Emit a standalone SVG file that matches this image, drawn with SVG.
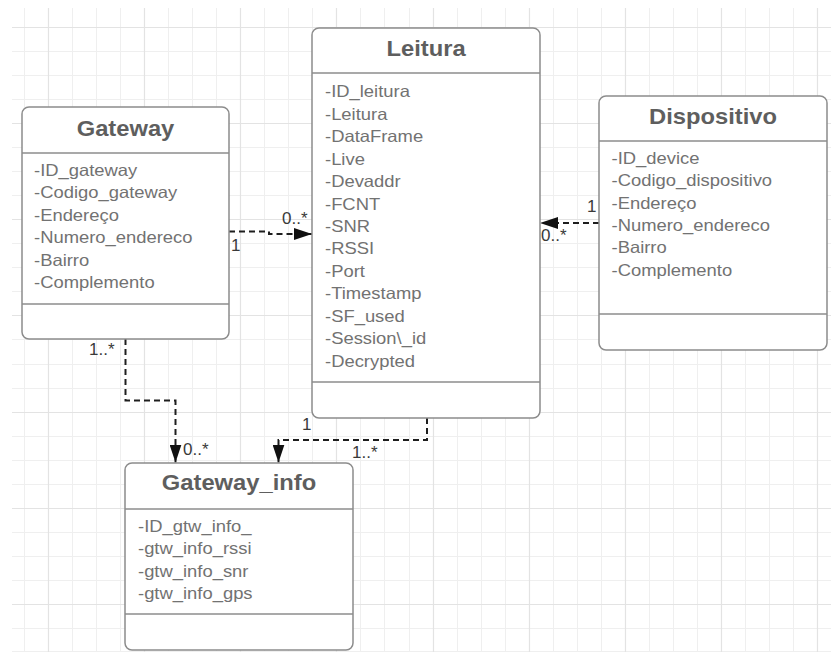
<svg xmlns="http://www.w3.org/2000/svg" width="831" height="652" viewBox="0 0 831 652">
  <style>
    .grid-minor { stroke: #efefef; stroke-width: 1; fill: none; }
    .grid-major { stroke: #e3e3e3; stroke-width: 1.2; fill: none; }
    .box { fill: #ffffff; stroke: #8c8c8c; stroke-width: 1.5; }
    .sep { stroke: #8c8c8c; stroke-width: 1.5; }
    .title { font-family: "Liberation Sans", Arial, sans-serif; font-size: 22px; font-weight: bold; fill: #5e5e5e; text-anchor: middle; }
    .attr { font-family: "Liberation Sans", Arial, sans-serif; font-size: 16.3px; fill: #727272; }
    .link { fill: none; stroke: #1e1e1e; stroke-width: 2; stroke-dasharray: 6 4; }
    .mult { font-family: "Liberation Sans", Arial, sans-serif; font-size: 17px; fill: #3a3a3a; }
  </style>
  <defs>
    <marker id="arrow" markerUnits="userSpaceOnUse" markerWidth="18" markerHeight="12" viewBox="0 0 18 12" refX="18" refY="6" orient="auto">
      <path d="M0,0 L18,6 L0,12 z" fill="#111111"/>
    </marker>
  </defs>

  <rect width="831" height="652" fill="#ffffff"/>

  <!-- background grid -->
  <g id="grid">
    <path class="grid-minor" d="M24.5,8V652 M72.5,8V652 M96.5,8V652 M120.5,8V652 M168.5,8V652 M192.5,8V652 M216.5,8V652 M264.5,8V652 M288.5,8V652 M312.5,8V652 M360.5,8V652 M384.5,8V652 M409.5,8V652 M457.5,8V652 M481.5,8V652 M505.5,8V652 M553.5,8V652 M577.5,8V652 M601.5,8V652 M649.5,8V652 M673.5,8V652 M697.5,8V652 M745.5,8V652 M769.5,8V652 M793.5,8V652
      M12,51.5H831 M12,75.5H831 M12,99.5H831 M12,147.5H831 M12,171.5H831 M12,195.5H831 M12,243.5H831 M12,267.5H831 M12,291.5H831 M12,339.5H831 M12,364.5H831 M12,388.5H831 M12,436.5H831 M12,460.5H831 M12,484.5H831 M12,532.5H831 M12,556.5H831 M12,580.5H831 M12,628.5H831 M12,651.5H831"/>
    <path class="grid-major" d="M48.5,8V652 M144.5,8V652 M240.5,8V652 M336.5,8V652 M433.5,8V652 M529.5,8V652 M625.5,8V652 M721.5,8V652 M817.5,8V652
      M12,27.5H831 M12,123.5H831 M12,219.5H831 M12,315.5H831 M12,412.5H831 M12,508.5H831 M12,604.5H831"/>
  </g>

  <!-- associations -->
  <g id="connectors">
    <path class="link" d="M229,231.5 H269 V234 H312" marker-end="url(#arrow)"/>
    <path class="link" d="M599,223 H540" marker-end="url(#arrow)"/>
    <path class="link" d="M125.5,339 V400.5 H175.5 V462.5" marker-end="url(#arrow)"/>
    <path class="link" d="M427,418 V440 H278.5 V462.5" marker-end="url(#arrow)"/>
    <text class="mult" x="282" y="224">0..*</text>
    <text class="mult" x="231" y="251">1</text>
    <text class="mult" x="587" y="212">1</text>
    <text class="mult" x="541" y="241">0..*</text>
    <text class="mult" x="89" y="355">1..*</text>
    <text class="mult" x="183" y="455">0..*</text>
    <text class="mult" x="302" y="430">1</text>
    <text class="mult" x="352" y="458">1..*</text>
  </g>

  <!-- Gateway -->
  <g id="gateway">
    <rect class="box" x="22" y="107" width="207" height="232" rx="7"/>
    <line class="sep" x1="22" y1="153" x2="229" y2="153"/>
    <line class="sep" x1="22" y1="304" x2="229" y2="304"/>
    <text class="title" transform="translate(125.5,136) scale(1.08,1)">Gateway</text>
    <text class="attr" transform="translate(34,176) scale(1.13,1)">
      <tspan x="0" y="0">-ID_gateway</tspan>
      <tspan x="0" dy="22.45">-Codigo_gateway</tspan>
      <tspan x="0" dy="22.45">-Endereço</tspan>
      <tspan x="0" dy="22.45">-Numero_endereco</tspan>
      <tspan x="0" dy="22.45">-Bairro</tspan>
      <tspan x="0" dy="22.45">-Complemento</tspan>
    </text>
  </g>

  <!-- Leitura -->
  <g id="leitura">
    <rect class="box" x="312" y="28" width="228" height="390" rx="7"/>
    <line class="sep" x1="312" y1="73" x2="540" y2="73"/>
    <line class="sep" x1="312" y1="382" x2="540" y2="382"/>
    <text class="title" transform="translate(426,56) scale(1.08,1)">Leitura</text>
    <text class="attr" transform="translate(325,97.3) scale(1.13,1)">
      <tspan x="0" y="0">-ID_leitura</tspan>
      <tspan x="0" dy="22.45">-Leitura</tspan>
      <tspan x="0" dy="22.45">-DataFrame</tspan>
      <tspan x="0" dy="22.45">-Live</tspan>
      <tspan x="0" dy="22.45">-Devaddr</tspan>
      <tspan x="0" dy="22.45">-FCNT</tspan>
      <tspan x="0" dy="22.45">-SNR</tspan>
      <tspan x="0" dy="22.45">-RSSI</tspan>
      <tspan x="0" dy="22.45">-Port</tspan>
      <tspan x="0" dy="22.45">-Timestamp</tspan>
      <tspan x="0" dy="22.45">-SF_used</tspan>
      <tspan x="0" dy="22.45">-Session\_id</tspan>
      <tspan x="0" dy="22.45">-Decrypted</tspan>
    </text>
  </g>

  <!-- Dispositivo -->
  <g id="dispositivo">
    <rect class="box" x="599" y="96" width="228" height="254" rx="7"/>
    <line class="sep" x1="599" y1="141" x2="827" y2="141"/>
    <line class="sep" x1="599" y1="314" x2="827" y2="314"/>
    <text class="title" transform="translate(713,123.5) scale(1.08,1)">Dispositivo</text>
    <text class="attr" transform="translate(611.5,164) scale(1.13,1)">
      <tspan x="0" y="0">-ID_device</tspan>
      <tspan x="0" dy="22.35">-Codigo_dispositivo</tspan>
      <tspan x="0" dy="22.35">-Endereço</tspan>
      <tspan x="0" dy="22.35">-Numero_endereco</tspan>
      <tspan x="0" dy="22.35">-Bairro</tspan>
      <tspan x="0" dy="22.35">-Complemento</tspan>
    </text>
  </g>

  <!-- Gateway_info -->
  <g id="gateway_info">
    <rect class="box" x="125" y="463" width="228" height="187" rx="7"/>
    <line class="sep" x1="125" y1="509" x2="353" y2="509"/>
    <line class="sep" x1="125" y1="614" x2="353" y2="614"/>
    <text class="title" transform="translate(239,490) scale(1.08,1)">Gateway_info</text>
    <text class="attr" transform="translate(138,531.7) scale(1.13,1)">
      <tspan x="0" y="0">-ID_gtw_info_</tspan>
      <tspan x="0" dy="22.5">-gtw_info_rssi</tspan>
      <tspan x="0" dy="22.5">-gtw_info_snr</tspan>
      <tspan x="0" dy="22.5">-gtw_info_gps</tspan>
    </text>
  </g>
</svg>
